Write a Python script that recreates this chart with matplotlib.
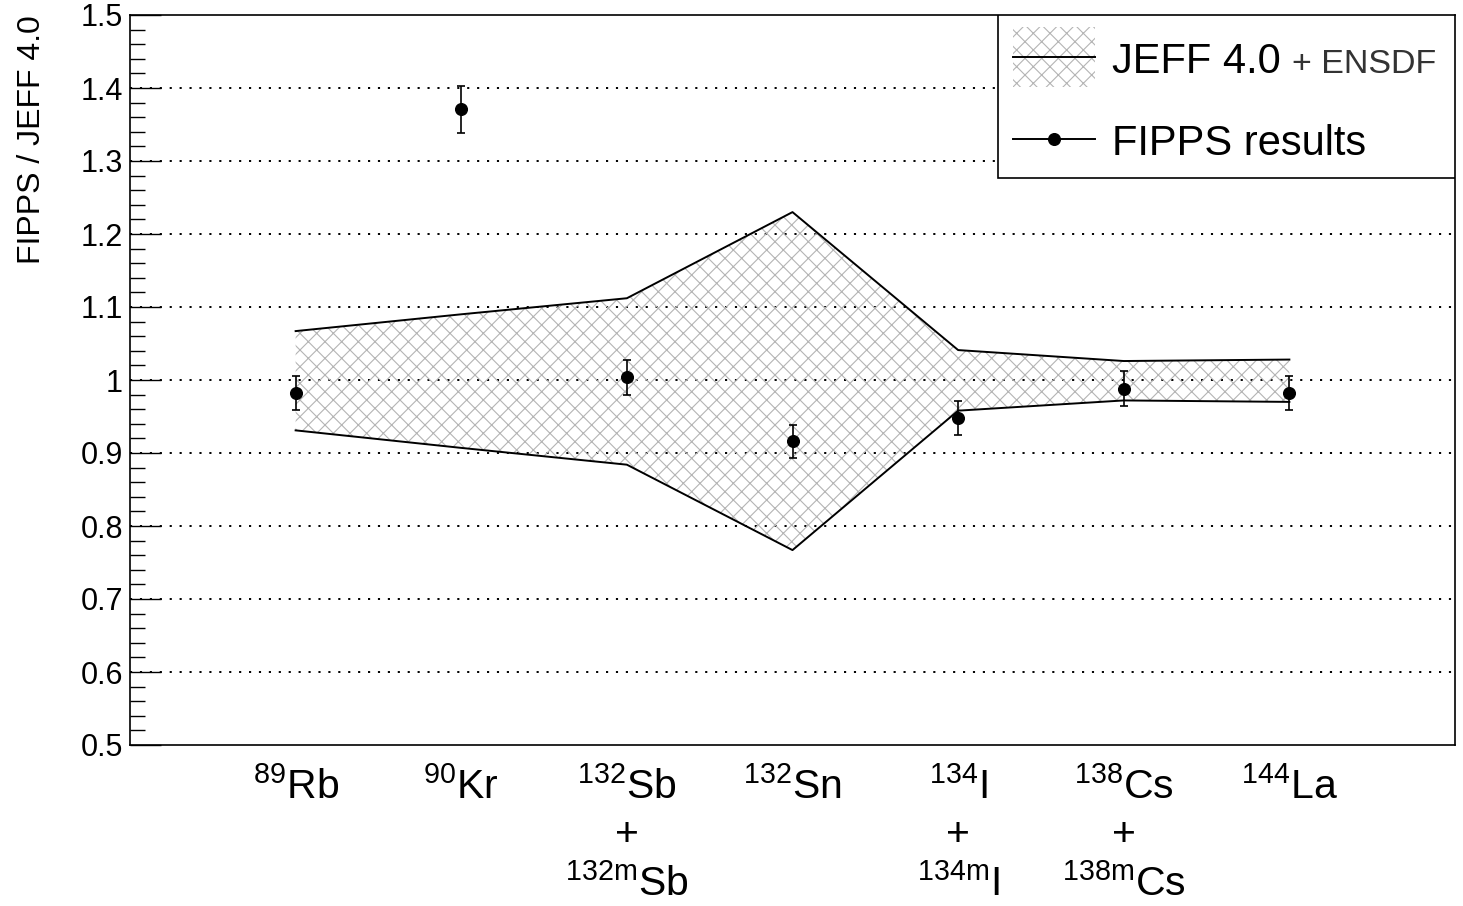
import matplotlib
matplotlib.use("Agg")
import matplotlib.pyplot as plt
from matplotlib.patches import Rectangle
from matplotlib.ticker import MultipleLocator
import numpy as np

plt.rcParams['font.family'] = ['Liberation Sans', 'DejaVu Sans']
plt.rcParams['mathtext.fontset'] = 'custom'
plt.rcParams['mathtext.rm'] = 'Liberation Sans'
plt.rcParams['mathtext.it'] = 'Liberation Sans:italic'
plt.rcParams['mathtext.bf'] = 'Liberation Sans:bold'
plt.rcParams['hatch.linewidth'] = 0.8

# nuclides (x = 1..7)
labels = [r"$^{89}$Rb",
          r"$^{90}$Kr",
          "$^{132}$Sb\n+\n$^{132\\mathrm{m}}$Sb",
          r"$^{132}$Sn",
          "$^{134}$I\n+\n$^{134\\mathrm{m}}$I",
          "$^{138}$Cs\n+\n$^{138\\mathrm{m}}$Cs",
          r"$^{144}$La"]

# JEFF 4.0 + ENSDF uncertainty band
band_hi = [1.067, 1.090, 1.112, 1.230, 1.041, 1.026, 1.028]
band_lo = [0.931, 0.907, 0.884, 0.767, 0.958, 0.972, 0.970]

# FIPPS results
fipps = [0.982, 1.371, 1.004, 0.916, 0.948, 0.988, 0.982]
fipps_err = [0.023, 0.032, 0.024, 0.023, 0.023, 0.024, 0.023]

x = np.arange(1, len(labels) + 1)

fig = plt.figure(figsize=(14.63, 9.06), dpi=100)
ax = fig.add_axes([130 / 1463, 161 / 906, 1325 / 1463, 730 / 906])

ax.fill_between(x, band_lo, band_hi, facecolor='none', edgecolor='#b4b4b4',
                hatch='xx', linewidth=0, zorder=1)
ax.plot(x, band_hi, color='k', lw=1.4, zorder=2)
ax.plot(x, band_lo, color='k', lw=1.4, zorder=2)

ax.errorbar(x, fipps, yerr=fipps_err, fmt='o', color='k', ms=8.4,
            elinewidth=1.2, capsize=2.6, capthick=1.2, zorder=3)

ax.set_xlim(0, 8)
ax.set_ylim(0.5, 1.5)
ax.set_xticks(x)
ax.set_xticklabels(labels, fontsize=29.5, linespacing=1.3)
ax.tick_params(axis='x', length=0, pad=16)
ax.yaxis.set_major_locator(MultipleLocator(0.1))
ax.yaxis.set_minor_locator(MultipleLocator(0.02))
ax.set_yticks([0.5, 0.6, 0.7, 0.8, 0.9, 1.0, 1.1, 1.2, 1.3, 1.4, 1.5])
ax.set_yticklabels(['0.5', '0.6', '0.7', '0.8', '0.9', '1', '1.1', '1.2',
                    '1.3', '1.4', '1.5'])
ax.tick_params(axis='y', which='major', direction='in', length=22, width=1.0,
               labelsize=22, pad=5)
ax.tick_params(axis='y', which='minor', direction='in', length=11, width=1.0)

for yv in [0.6, 0.7, 0.8, 0.9, 1.0, 1.1, 1.2, 1.3, 1.4]:
    ax.axhline(yv, color='k', lw=1.4, linestyle=(0, (1.1, 4.0)), zorder=0.5)

for sp in ax.spines.values():
    sp.set_linewidth(1.2)

ax.set_ylabel('FIPPS / JEFF 4.0', fontsize=23, loc='top', labelpad=24)

# legend box drawn by hand
ax.add_patch(Rectangle((0.655, 0.7767), 0.345, 0.2233, transform=ax.transAxes,
                       facecolor='white', edgecolor='k', lw=1.2, zorder=4))
ax.add_patch(Rectangle((0.6664, 0.9014), 0.0619, 0.0822, transform=ax.transAxes,
                       facecolor='none', edgecolor='#b4b4b4', hatch='xx', lw=0,
                       zorder=5))
ax.plot([0.6664, 0.7283], [0.942, 0.942], transform=ax.transAxes, color='k',
        lw=1.4, zorder=6)
ax.plot([0.6664, 0.7283], [0.830, 0.830], transform=ax.transAxes, color='k',
        lw=1.4, zorder=6)
ax.plot([0.6973], [0.830], 'o', transform=ax.transAxes, color='k', ms=8.4,
        zorder=6)
ax.text(0.741, 0.9205, 'JEFF 4.0', transform=ax.transAxes, fontsize=30,
        va='baseline', ha='left', zorder=6)
ax.text(0.877, 0.9205, '+ ENSDF', transform=ax.transAxes, fontsize=24.5,
        va='baseline', ha='left', color='#333333', zorder=6)
ax.text(0.741, 0.808, 'FIPPS results', transform=ax.transAxes, fontsize=30,
        va='baseline', ha='left', zorder=6)

fig.savefig('out.png', dpi=100)
